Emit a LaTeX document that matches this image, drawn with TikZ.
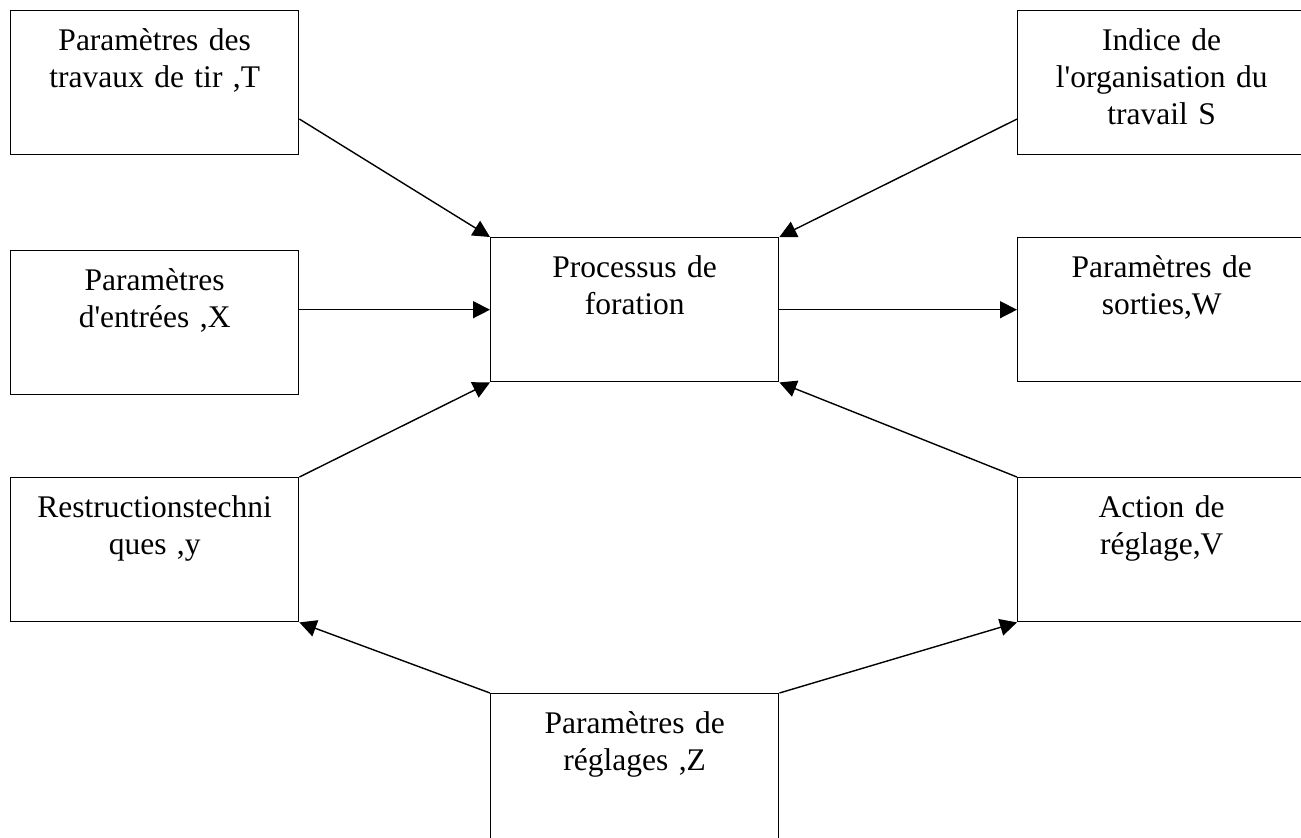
\documentclass[tikz,border=0pt]{standalone}
\usepackage{fontspec}
\setmainfont{Liberation Serif}
\usetikzlibrary{arrows.meta, calc}

\begin{document}
\begin{tikzpicture}[x=0.5pt, y=-0.5pt,
        box/.style={draw, line width=0.7pt, inner sep=0pt, anchor=north west,
            text width=144pt, align=center, text height=20pt, text depth=52pt,
            font=\fontsize{15.75pt}{18.5pt}\selectfont},
        arr/.style={line width=0.7pt, -{Triangle[length=8.5pt, width=8.5pt]}}]
        \clip (0, 0) rectangle (1301, 837);

        \node[box] (t) at (10, 10) {Paramètres des\\travaux de tir ,T};
        \node[box] (s) at (1017, 10) {Indice de\\l\textquotesingle organisation du\\travail S};
        \node[box] (x) at (10, 250) {Paramètres\\d\textquotesingle entrées ,X};
        \node[box] (p) at (490, 237) {Processus de\\foration};
        \node[box] (w) at (1017, 237) {Paramètres de\\sorties,W};
        \node[box] (y) at (10, 477) {Restructionstechni\\ques ,y};
        \node[box] (v) at (1017, 477) {Action de\\réglage,V};
        \node[box, text depth=60pt] (z) at (490, 693) {Paramètres de\\réglages ,Z};

        \draw[arr] ($(t.north east)!0.75!(t.south east)$) to (p.north west);
        \draw[arr] ($(s.north west)!0.75!(s.south west)$) to (p.north east);
        \draw[arr] (x.east |- p.west) to (p.west);
        \draw[arr] (p.east) to (w.west);
        \draw[arr] (y.north east) to (p.south west);
        \draw[arr] (v.north west) to (p.south east);
        \draw[arr] (z.north west) to (y.south east);
        \draw[arr] (z.north east) to (v.south west);
    \end{tikzpicture}
\end{document}
